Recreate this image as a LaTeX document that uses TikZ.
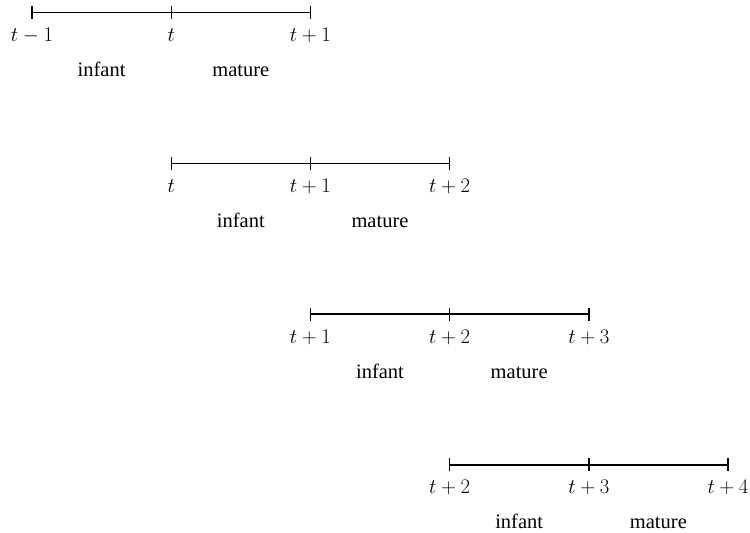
\documentclass[tikz,border=0pt]{standalone}
\usepackage{fontspec}
\setmainfont{Liberation Serif}
\begin{document}
\begin{tikzpicture}[x=1pt,y=-1pt,
  axis/.style={line width=1.4pt},
  tickmark/.style={line width=1.4pt},
  tlabel/.style={anchor=base,inner sep=0pt,font=\fontsize{21}{25}\selectfont},
  wlabel/.style={anchor=base,inner sep=0pt,font=\fontsize{20.5}{25}\selectfont}]
\useasboundingbox (0,0) rectangle (750,533);
\foreach \i/\la/\lb/\lc in {0/t-1/t/t+1, 1/t/t+1/t+2, 2/t+1/t+2/t+3, 3/t+2/t+3/t+4} {
  \pgfmathsetmacro\yy{12.5+150.8*\i}
  \pgfmathsetmacro\xa{32+139.2*\i}
  \coordinate (a\i) at (\xa,\yy);
  \coordinate (b\i) at (\xa+139.2,\yy);
  \coordinate (c\i) at (\xa+278.4,\yy);
  \coordinate (m\i) at (\xa+69.6,\yy);
  \coordinate (n\i) at (\xa+208.8,\yy);
  \draw[axis] (a\i) -- (c\i);
  \foreach \p in {a,b,c} {
    \draw[tickmark] (\p\i) ++(0,-6.5) -- ++(0,13);
  }
  \node[tlabel] (la\i) at ([yshift=-29pt]a\i) {$\la$};
  \node[tlabel] (lb\i) at ([yshift=-29pt]b\i) {$\lb$};
  \node[tlabel] (lc\i) at ([yshift=-29pt]c\i) {$\lc$};
  \node[wlabel] (inf\i) at ([yshift=-64pt]m\i) {infant};
  \node[wlabel] (mat\i) at ([yshift=-64pt]n\i) {mature};
}
\end{tikzpicture}
\end{document}
